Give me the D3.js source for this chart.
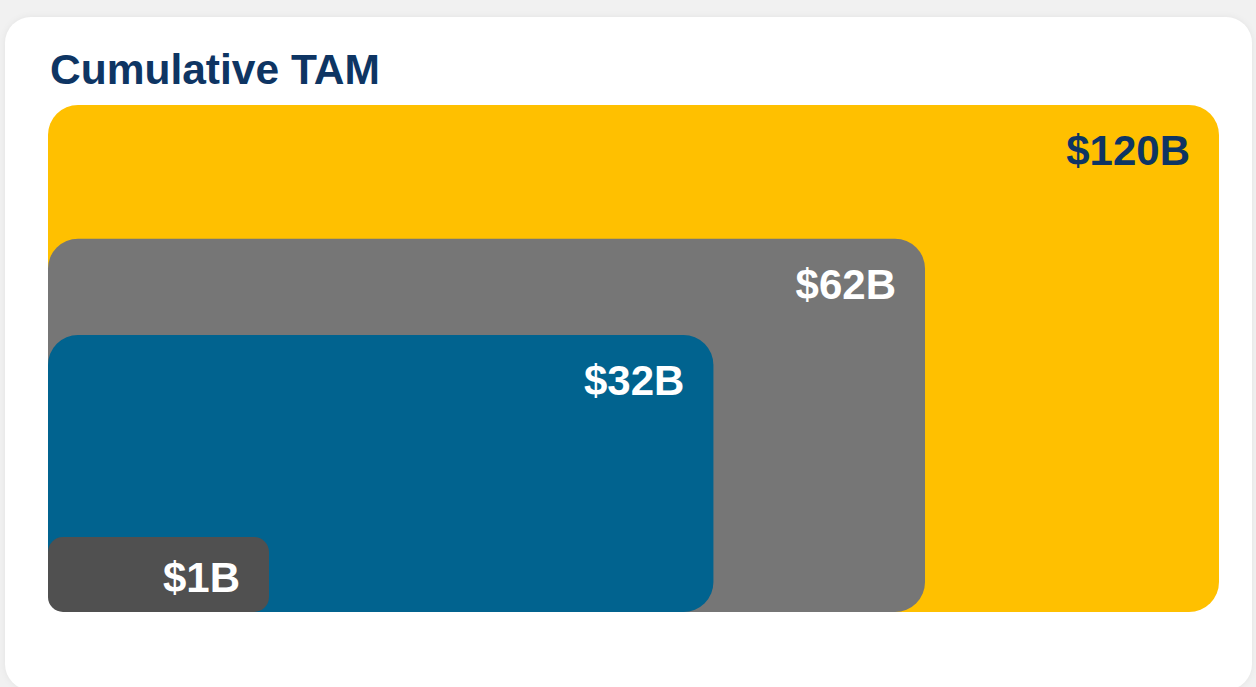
<!DOCTYPE html>
<html lang="en">
<head>
  <meta charset="UTF-8">
  <title>Cumulative TAM</title>
  <script src="https://d3js.org/d3.v7.min.js"></script>
  <style>
    html, body { margin: 0; padding: 0; background: #f1f1f1; }
    #chart { display: block; }
  </style>
</head>
<body>
  <svg id="chart" width="1256" height="687"></svg>
  <script>
// market tiers, largest first (values in $B)
const tiers = ["Total", "Serviceable", "Target", "Initial"];
const tamValues = [120, 62, 32, 1];
const tamLabels = ["$120B", "$62B", "$32B", "$1B"];
const tierColors = ["#FFC000", "#767676", "#01638F", "#505050"];
const labelColors = ["#0E3563", "#ffffff", "#ffffff", "#ffffff"];

const svg = d3.select("#chart");

// card background
svg.append("rect")
  .attr("x", 5).attr("y", 17)
  .attr("width", 1247).attr("height", 673)
  .attr("rx", 26)
  .attr("fill", "#ffffff")
  .style("filter", "drop-shadow(0 0 3px rgba(0,0,0,0.06))");

svg.append("text")
  .attr("x", 50).attr("y", 84)
  .attr("font-family", "Liberation Sans, Arial, sans-serif")
  .attr("font-weight", "bold")
  .attr("font-size", 42.5)
  .attr("fill", "#0E3563")
  .text("Cumulative TAM");

// boxes grow with the square root of the value, anchored bottom-left
const left = 48, bottom = 612;
const w = d3.scaleSqrt().domain([1, 120]).range([221, 1171]);
const h = d3.scaleSqrt().domain([1, 120]).range([75, 507]);

const data = tiers.map((t, i) => ({
  tier: t, value: tamValues[i], label: tamLabels[i],
  color: tierColors[i], textColor: labelColors[i]
}));

const boxes = svg.selectAll("g.tier")
  .data(data)
  .join("g")
  .attr("class", "tier");

boxes.append("rect")
  .attr("x", left)
  .attr("y", d => bottom - h(d.value))
  .attr("width", d => w(d.value))
  .attr("height", d => h(d.value))
  .attr("rx", d => Math.min(30, h(d.value) / 5))
  .attr("fill", d => d.color);

boxes.append("text")
  .attr("x", d => left + w(d.value) - 29)
  .attr("y", d => bottom - h(d.value) + Math.min(60, h(d.value) / 2 + 17))
  .attr("text-anchor", "end")
  .attr("font-family", "Liberation Sans, Arial, sans-serif")
  .attr("font-weight", "bold")
  .attr("font-size", 42)
  .attr("fill", d => d.textColor)
  .text(d => d.label);
  </script>
</body>
</html>
